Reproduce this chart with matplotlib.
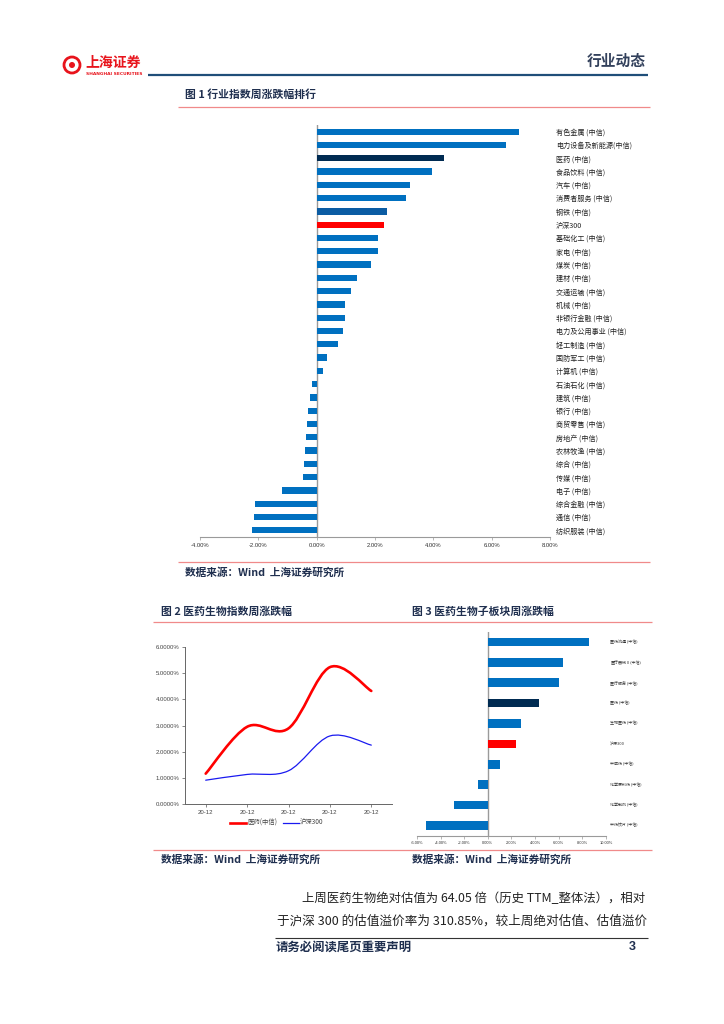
import matplotlib
matplotlib.use("Agg")
import matplotlib.pyplot as plt
from matplotlib.path import Path
from matplotlib.patches import PathPatch, Circle
from matplotlib.lines import Line2D

plt.rcParams['font.family'] = ['Noto Sans CJK SC', 'DejaVu Sans']

W, H = 724, 1024

# ---- chart 1 data
industries = ["有色金属 (中信)", "电力设备及新能源(中信)", "医药 (中信)", "食品饮料 (中信)", "汽车 (中信)",
              "消费者服务 (中信)", "钢铁 (中信)", "沪深300", "基础化工 (中信)", "家电 (中信)", "煤炭 (中信)",
              "建材 (中信)", "交通运输 (中信)", "机械 (中信)", "非银行金融 (中信)", "电力及公用事业 (中信)",
              "轻工制造 (中信)", "国防军工 (中信)", "计算机 (中信)", "石油石化 (中信)", "建筑 (中信)",
              "银行 (中信)", "商贸零售 (中信)", "房地产 (中信)", "农林牧渔 (中信)", "综合 (中信)", "传媒 (中信)",
              "电子 (中信)", "综合金融 (中信)", "通信 (中信)", "纺织服装 (中信)"]
industry_values = [6.95, 6.50, 4.35, 3.95, 3.20, 3.07, 2.40, 2.30, 2.12, 2.10, 1.87, 1.40, 1.18, 0.97, 0.97,
                   0.92, 0.72, 0.37, 0.22, -0.15, -0.22, -0.30, -0.32, -0.35, -0.40, -0.43, -0.47, -1.20,
                   -2.13, -2.15, -2.22]
industry_ticks = [-4, -2, 0, 2, 4, 6, 8]

# ---- chart 2 data
week_labels = ["20-12", "20-12", "20-12", "20-12", "20-12"]
pharma_index = [1.16, 2.95, 2.89, 5.23, 4.32]
csi300_index = [0.91, 1.13, 1.27, 2.60, 2.25]
index_ticks = [0, 1, 2, 3, 4, 5, 6]

# ---- chart 3 data
subsectors = ["医药流通 (中信)", "医疗器械Ⅱ(中信)", "医疗服务 (中信)", "医药 (中信)", "生物医药 (中信)",
              "沪深300", "中成药 (中信)", "化学原料药 (中信)", "化学制剂 (中信)", "中药饮片 (中信)"]
subsector_values = [8.56, 6.40, 6.03, 4.37, 2.82, 2.34, 1.04, -0.82, -2.90, -5.27]
subsector_ticks = [-6, -4, -2, 0, 2, 4, 6, 8, 10]

SOURCE_TEXT = "数据来源\uff1aWind  上海证券研究所"
BODY_1 = "上周医药生物绝对估值为 64.05 倍\uff08历史 TTM_整体法\uff09\uff0c相对"
BODY_2 = "于沪深 300 的估值溢价率为 310.85%\uff0c较上周绝对估值、估值溢价"

BLUE = "#0070C0"
NAVY = "#002B52"
RED = "#FF0000"
RULE = "#F08A8A"
GREY = "#9A9A9A"
TXT = "#1F2F4F"


def axes_px(fig, left, top, right, bottom):
    return fig.add_axes([left / W, 1 - bottom / H, (right - left) / W, (bottom - top) / H])


def smooth_path(xs, ys):
    verts = [(xs[0], ys[0])]
    codes = [Path.MOVETO]
    n = len(xs)
    for i in range(n - 1):
        x0, y0 = (xs[i - 1], ys[i - 1]) if i > 0 else (xs[i], ys[i])
        x1, y1 = xs[i], ys[i]
        x2, y2 = xs[i + 1], ys[i + 1]
        x3, y3 = (xs[i + 2], ys[i + 2]) if i + 2 < n else (x2, y2)
        verts += [(x1 + (x2 - x0) / 6, y1 + (y2 - y0) / 6),
                  (x2 - (x3 - x1) / 6, y2 - (y3 - y1) / 6), (x2, y2)]
        codes += [Path.CURVE4] * 3
    return Path(verts, codes)


fig = plt.figure(figsize=(W / 100, H / 100), dpi=100, facecolor="white")

# page furniture in pixel coordinates
page = fig.add_axes([0, 0, 1, 1])
page.set_xlim(0, W)
page.set_ylim(H, 0)
page.axis("off")


def rule(x0, x1, y, color=RULE, lw=0.9):
    page.plot([x0, x1], [y, y], color=color, lw=lw, solid_capstyle="butt")


def label(x, y, s, size, **kw):
    kw.setdefault("color", TXT)
    kw.setdefault("fontweight", "bold")
    page.text(x, y, s, fontsize=size, va="center", ha=kw.pop("ha", "left"), **kw)


# logo
page.add_patch(Circle((72, 65), 8.0, fill=False, ec="#E8141C", lw=2.0))
page.add_patch(Circle((72, 65), 3.0, fc="#E8141C", ec="none"))
label(85, 62.5, "上海证券", 10.0, color="#E8141C", fontweight="black")
label(86, 73.6, "SHANGHAI SECURITIES", 3.2, color="#E8141C", family="DejaVu Sans")
label(587, 61, "行业动态", 10.6, color="#33415C")
rule(148, 648, 75, color="#1F4E79", lw=1.6)

label(185, 95, "图 1 行业指数周涨跌幅排行", 7.8)
rule(178, 650, 107)
rule(178, 650, 562)
label(185, 572.5, SOURCE_TEXT, 7.7)

label(161, 612, "图 2 医药生物指数周涨跌幅", 7.8)
label(412, 612, "图 3 医药生物子板块周涨跌幅", 7.8)
rule(153, 652, 622)
rule(153, 652, 850)
label(161, 860, SOURCE_TEXT, 7.7)
label(412, 860, SOURCE_TEXT, 7.7)

label(302, 899, BODY_1, 8.92, color="#222222", fontweight="normal")
label(277, 921, BODY_2, 9.05, color="#222222", fontweight="normal")
rule(275, 648, 938, color="#333333", lw=0.8)
label(276, 947, "请务必阅读尾页重要声明", 8.9, color="#1F2F4F")
label(629, 947, "3", 9, color="#1F2F4F", family="Liberation Sans")


def bar_colors(names):
    out = []
    for n in names:
        if n.startswith("沪深300"):
            out.append(RED)
        elif n.startswith("医药 ("):
            out.append(NAVY)
        elif n.startswith("钢铁"):
            out.append("#0B5CA3")
        else:
            out.append(BLUE)
    return out


def style_hbar(ax, ticks, tick_size, fmt):
    for s in ("top", "right", "left"):
        ax.spines[s].set_visible(False)
    ax.spines["bottom"].set_color(GREY)
    ax.spines["bottom"].set_linewidth(0.8)
    ax.axvline(0, color=GREY, lw=1.0, zorder=1)
    ax.set_xticks(ticks)
    ax.set_xticklabels([fmt % t for t in ticks], fontsize=tick_size, color="#333333",
                       family="Liberation Sans")
    ax.tick_params(axis="x", length=2, width=0.5, color=GREY, pad=2)
    ax.set_yticks([])
    ax.patch.set_alpha(0)


# chart 1
ax1 = axes_px(fig, 200, 125, 550, 537)
pos1 = list(range(len(industries)))
ax1.barh(pos1, industry_values, height=0.47, color=bar_colors(industries), zorder=2)
ax1.set_xlim(-4, 8)
ax1.set_ylim(len(industries) - 0.5, -0.5)
style_hbar(ax1, industry_ticks, 4.2, "%.2f%%")
for p, name in zip(pos1, industries):
    ax1.annotate(name, xy=(1, p), xycoords=("axes fraction", "data"), xytext=(4.4, -0.7),
                 textcoords="offset points", fontsize=5.1, va="center", ha="left", color="#222222")

# chart 2
ax2 = axes_px(fig, 185, 647, 392, 804)
pos2 = list(range(len(week_labels)))
ax2.add_patch(PathPatch(smooth_path(pos2, pharma_index), fill=False, ec=RED, lw=1.9, capstyle="round"))
ax2.add_patch(PathPatch(smooth_path(pos2, csi300_index), fill=False, ec="#1A1AF0", lw=0.9, capstyle="round"))
ax2.set_xlim(-0.5, 4.5)
ax2.set_ylim(0, 6)
ax2.set_xticks(pos2)
ax2.set_xticklabels(week_labels, fontsize=4.3, color="#444444", family="Liberation Sans")
ax2.set_yticks(index_ticks)
ax2.set_yticklabels(["%.4f%%" % v for v in index_ticks], fontsize=4.3, color="#444444", family="Liberation Sans")
ax2.tick_params(axis="both", length=2, width=0.5, color="#555555", pad=2)
for s in ("top", "right"):
    ax2.spines[s].set_visible(False)
for s in ("left", "bottom"):
    ax2.spines[s].set_color("#666666")
    ax2.spines[s].set_linewidth(0.7)
handles = [Line2D([], [], color=RED, lw=1.9), Line2D([], [], color="#1A1AF0", lw=0.9)]
ax2.legend(handles, ["医药(中信)", "沪深300"], loc="center", bbox_to_anchor=(277 / W, 1 - 823 / H),
           bbox_transform=fig.transFigure, ncol=2, frameon=False, fontsize=4.6, handlelength=2.4,
           columnspacing=1.0, handletextpad=0.2, labelcolor="#444444")

# chart 3
ax3 = axes_px(fig, 417, 631.7, 606, 835.7)
pos3 = list(range(len(subsectors)))
ax3.barh(pos3, subsector_values, height=0.42, color=bar_colors(subsectors), zorder=2)
ax3.set_xlim(-6, 10)
ax3.set_ylim(len(subsectors) - 0.5, -0.5)
style_hbar(ax3, subsector_ticks, 2.9, "%.2f%%")
for p, name in zip(pos3, subsectors):
    ax3.annotate(name, xy=(1, p), xycoords=("axes fraction", "data"), xytext=(3, 0),
                 textcoords="offset points", fontsize=2.9, va="center", ha="left", color="#333333")

fig.savefig("out.png", dpi=100)
